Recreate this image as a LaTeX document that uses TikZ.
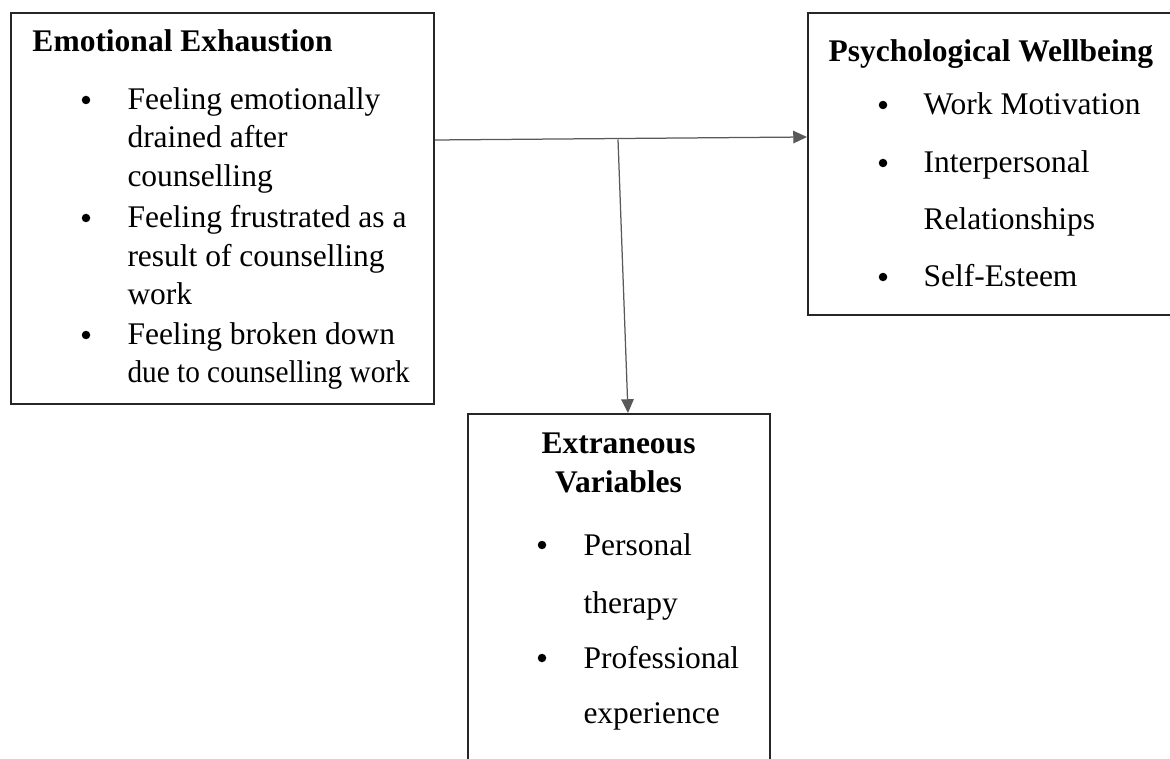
\documentclass[tikz,border=0pt]{standalone}
\usepackage{fontspec}
\usepackage{graphicx}
\setmainfont{Liberation Serif}
\usetikzlibrary{arrows.meta,calc}
\newcommand{\boxfont}{\fontsize{12.6}{15}\selectfont}
\tikzset{
  frame/.style={draw=black!85,line width=0.8pt,rectangle,inner sep=0pt},
  head/.style={font=\boxfont\bfseries,anchor=base west,inner sep=0pt},
  itemtext/.style={anchor=base west,inner sep=0pt},
  dot/.style={circle,fill=black,inner sep=0pt,minimum size=3.4pt},
  link/.style={draw=black!65,line width=0.5pt,-{Triangle[length=5.5pt,width=5pt]}}
}
\begin{document}
\begin{tikzpicture}[x=0.4pt,y=-0.4pt,font=\boxfont]
\useasboundingbox (0,0) rectangle (1170,758);
\clip (0,0) rectangle (1170,758);
\node[frame,minimum width=169.2pt,minimum height=156.4pt] (ee) at (222.5,208.5) {};
\node[frame,minimum width=150.8pt,minimum height=120.8pt] (pw) at (996.5,164) {};
\node[frame,minimum width=120.8pt,minimum height=146.4pt] (ev) at (619,597) {};
\node[head] (eeh) at (32,52) {Emotional Exhaustion};
\foreach \txt/\yy [count=\i] in {{Feeling emotionally}/110,{drained after}/148,{counselling}/187,
  {Feeling frustrated as a}/228,{result of counselling}/267,{work}/305,
  {Feeling broken down}/345,{\scalebox{0.93}[1]{due to counselling work}}/382}
  \node[itemtext] (ee-\i) at (127,\yy) {\txt};
\foreach \yy [count=\i] in {110,228,345}
  \node[dot] (eed-\i) at (86,\yy-10) {};
\node[head] (pwh) at (828,62) {Psychological Wellbeing};
\foreach \txt/\yy [count=\i] in {{Work Motivation}/115,{Interpersonal}/173,{Relationships}/230,{Self-Esteem}/287}
  \node[itemtext] (pw-\i) at (923,\yy) {\txt};
\foreach \yy [count=\i] in {115,173,287}
  \node[dot] (pwd-\i) at (883,\yy-10) {};
\node[head,anchor=base] (evh-1) at (618.5,453) {Extraneous};
\node[head,anchor=base] (evh-2) at (618.5,492) {Variables};
\foreach \txt/\yy [count=\i] in {{Personal}/555,{therapy}/613,{Professional}/668,{experience}/723}
  \node[itemtext] (ev-\i) at (583,\yy) {\txt};
\foreach \yy [count=\i] in {555,668}
  \node[dot] (evd-\i) at (542,\yy-10) {};
\coordinate (fork) at (618,139.5);
\draw[link] ($(ee.north east)+(0,128)$) -- ($(pw.north west)+(0,125)$);
\draw[link] (fork) -- ($(ev.north)+(9,0)$);
\end{tikzpicture}
\end{document}
